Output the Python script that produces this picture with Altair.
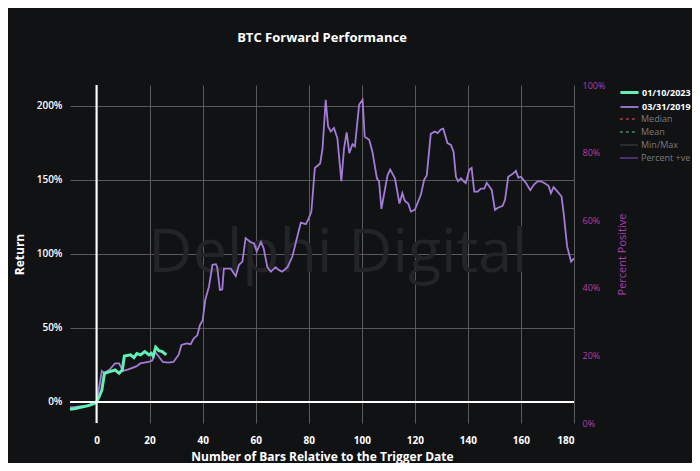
import altair as alt
import pandas as pd

# ---- data ----
series_names = ["01/10/2023", "03/31/2019"]
stat_names = ["Median", "Mean", "Min/Max", "Percent +ve"]

p_x = [-10, -8, -6, -4, -2, 0, 1, 2, 3, 5, 7, 8.5, 10, 12, 15, 16.5, 19.5, 21, 22, 23.5,
       25, 27, 29, 31, 32, 34, 35.5, 36.7, 38, 39, 40, 41, 42.4, 43.7, 45, 45.5, 46.5, 47.4,
       48, 50.6, 52.5, 53.7, 55, 56.2, 58, 59.4, 60.4, 62, 63, 64.4, 65.7, 67.5, 68.8, 70,
       72, 73.8, 75.7, 77, 78.9, 80, 81, 82.3, 84.3, 85.2, 86.4, 87.3, 88.3, 89.5, 90.8,
       92.3, 93.3, 94.3, 95.3, 96.5, 97.4, 99, 100.3, 101.1, 102.8, 104, 105.7, 106.5,
       107.4, 109.7, 110.7, 112.5, 114.2, 115.3, 116.2, 117.5, 118.5, 120, 122.3, 123.5,
       124.5, 126, 127.5, 128.6, 129.8, 130.7, 132.3, 133.6, 134.6, 135.5, 136.3, 137.4,
       138.4, 139.2, 140.5, 141.4, 142.4, 143.7, 144.9, 146.2, 147.1, 148.1, 149, 150.2,
       151.2, 153.1, 154, 155.2, 156.9, 158.1, 159, 160, 161.9, 163.5, 165, 166.3, 167.5,
       168.8, 170.4, 171.3, 172.3, 173.8, 175.3, 176.1, 177.4, 178.9, 180]
p_y = [-3.6, -3.4, -3.0, -2.6, -1.6, 0, 10, 21, 19.5, 22, 26, 26, 21, 22, 24, 26, 27, 28, 34, 30.5,
       27, 26.6, 27, 32, 38.5, 39.6, 39, 43, 45, 52, 55, 69, 78, 92.6, 93, 91, 75.7, 76,
       90, 90, 85, 92.6, 94.8, 110.6, 108, 107, 101.6, 108, 103.8, 91, 88, 91, 89, 88,
       91, 98, 111.7, 121, 120, 124, 128.6, 158, 161, 171, 204, 186, 182.6, 185, 178,
       149, 171, 182, 168, 174, 172.5, 200.7, 204, 179, 177, 169, 151, 149,
       130.4, 153, 157, 151, 134, 141, 135.8, 134, 128.6, 129.7, 140, 150,
       153, 181, 182.6, 181.5, 184, 184.5, 174.8, 173.6, 169, 152, 149, 151,
       149, 147.8, 156.8, 158, 142, 142, 144, 144, 148, 145.5, 143, 129.7,
       131, 132.4, 136.5, 152, 154, 156, 151.5, 152, 147.8, 143, 147, 149, 149,
       147.8, 146, 141, 145, 142, 138.7, 127.5, 105, 94.8, 97]

t_x = [-10, -8, -6, -3, -1, 0, 1, 2, 3, 5, 7, 8.5, 9.7, 10.5, 12.8, 14.1, 15.2, 16.6, 18.2,
       19.8, 20.6, 21.4, 22.3, 23.5, 24.8, 26.3]
t_y = [-5, -4.4, -3.6, -2.5, -1.2, 0, 3.6, 8, 19.4, 20.5, 21.6, 19.4, 21.6, 31, 31.8, 30, 32.7,
       31.8, 34, 31.8, 32.9, 31, 37, 34.7, 34, 31.8]

x_ticks = [0, 20, 40, 60, 80, 100, 120, 140, 160, 180]
y_ticks = [0, 50, 100, 150, 200]
pct_ticks = [0, 20, 40, 60, 80, 100]

# ---- styling ----
BG = "#111214"
TEAL = "#62f0b6"
PURPLE = "#a47bd8"
MAGENTA = "#b03fb5"
GRID = "#5a5a5a"
FONT = "Open Sans"

df = pd.concat([
    pd.DataFrame({"bar": p_x, "ret": p_y, "series": series_names[1]}),
    pd.DataFrame({"bar": t_x, "ret": t_y, "series": series_names[0]}),
], ignore_index=True)

zero_df = pd.DataFrame({"zero": [0]})
stat_df = pd.DataFrame({"stat": stat_names, "bar": [0] * 4, "pct": [0] * 4})
wm_df = pd.DataFrame({"label": ["Delphi Digital"]})

x_enc = alt.X("bar:Q", scale=alt.Scale(domain=[-10, 180], nice=False, zero=False),
              axis=alt.Axis(values=x_ticks, title="Number of Bars Relative to the Trigger Date",
                            grid=True, gridColor=GRID, gridWidth=1, domain=False, ticks=False,
                            labelColor="white", labelFontWeight="bold", labelFontSize=10,
                            labelPadding=12, labelFont=FONT,
                            titleColor="white", titleFontWeight="bold", titleFontSize=12,
                            titleFont=FONT, titleBaseline="middle", titleY=33))

y_scale = alt.Scale(domain=[-14.2, 214], nice=False, zero=False)
y_axis = alt.Axis(values=y_ticks, labelExpr="datum.value + '%'", title="Return",
                  grid=True, gridColor=GRID, gridWidth=1, domain=False, ticks=False,
                  labelColor="white", labelFontWeight=600, labelFontSize=10, labelPadding=8,
                  labelFont=FONT, titleColor="white", titleFontWeight="bold", titleFontSize=12,
                  titleFont=FONT, titleBaseline="middle", titleX=-51)

watermark = alt.Chart(wm_df).mark_text(
    font=FONT, fontSize=61, color="#232428", align="center", baseline="middle"
).encode(x=alt.datum(91), y=alt.datum(100), text="label:N")

zero_h = alt.Chart(zero_df).mark_rule(color="white", strokeWidth=2).encode(y=alt.Y("zero:Q"))
zero_v = alt.Chart(zero_df).mark_rule(color="white", strokeWidth=2).encode(x=alt.X("zero:Q"))

legend_top = alt.Legend(title=None, orient="none", legendX=551, legendY=-1, padding=0,
                        symbolType="M-1.37,0L1.37,0", symbolSize=176,
                        rowPadding=0, labelOffset=4, labelColor="white",
                        labelFontWeight="bold", labelFontSize=9, labelFont=FONT)

lines = alt.Chart(df).mark_line().encode(
    x=x_enc,
    y=alt.Y("ret:Q", scale=y_scale, axis=y_axis),
    color=alt.Color("series:N", scale=alt.Scale(domain=series_names, range=[TEAL, PURPLE]),
                    legend=legend_top),
    strokeWidth=alt.StrokeWidth("series:N", scale=alt.Scale(domain=series_names, range=[3, 1.8]),
                                legend=legend_top),
)

inner = alt.layer(watermark, lines, zero_h, zero_v)

legend_bot = alt.Legend(title=None, orient="none", legendX=551, legendY=26, padding=0,
                        symbolType="M-1.37,0L1.37,0", symbolSize=176,
                        rowPadding=0, labelOffset=4, labelColor="#7c7c7c",
                        labelFontSize=9, labelFont=FONT)

pct = alt.Chart(stat_df).mark_line().encode(
    x=alt.X("bar:Q"),
    y=alt.Y("pct:Q", scale=alt.Scale(domain=[0, 100], nice=False),
            axis=alt.Axis(orient="right", values=pct_ticks, labelExpr="datum.value + '%'",
                          title="Percent Positive", grid=False, domain=False, ticks=False,
                          labelColor=MAGENTA, labelFontSize=9, labelPadding=8, labelFont=FONT,
                          titleColor=MAGENTA, titleFontSize=11, titleFontWeight="normal",
                          titleFont=FONT, titleAngle=270, titleBaseline="middle", titleX=48)),
    color=alt.Color("stat:N", scale=alt.Scale(domain=stat_names,
                    range=["#8a2f33", "#2f6e4c", "#2b2c30", "#4e3070"]), legend=legend_bot),
    strokeDash=alt.StrokeDash("stat:N", scale=alt.Scale(domain=stat_names,
                              range=[[3, 3], [3, 3], [1, 0], [1, 0]]), legend=legend_bot),
    strokeWidth=alt.StrokeWidth("stat:N", scale=alt.Scale(domain=stat_names,
                                range=[2, 2, 7, 2]), legend=legend_bot),
)

chart = alt.layer(inner, pct).resolve_scale(
    y="independent", color="independent", strokeDash="independent", strokeWidth="independent"
).properties(
    width=504, height=338,
    title=alt.Title("BTC Forward Performance", color="white", fontSize=13, fontWeight="bold",
                    font=FONT, offset=36),
    background=BG,
    padding={"left": 62, "top": 77, "right": 118, "bottom": 40},
    autosize=alt.AutoSizeParams(type="none"),
).configure_view(stroke=None)

chart.save("out.html", embed_options={"renderer": "svg", "actions": False})
